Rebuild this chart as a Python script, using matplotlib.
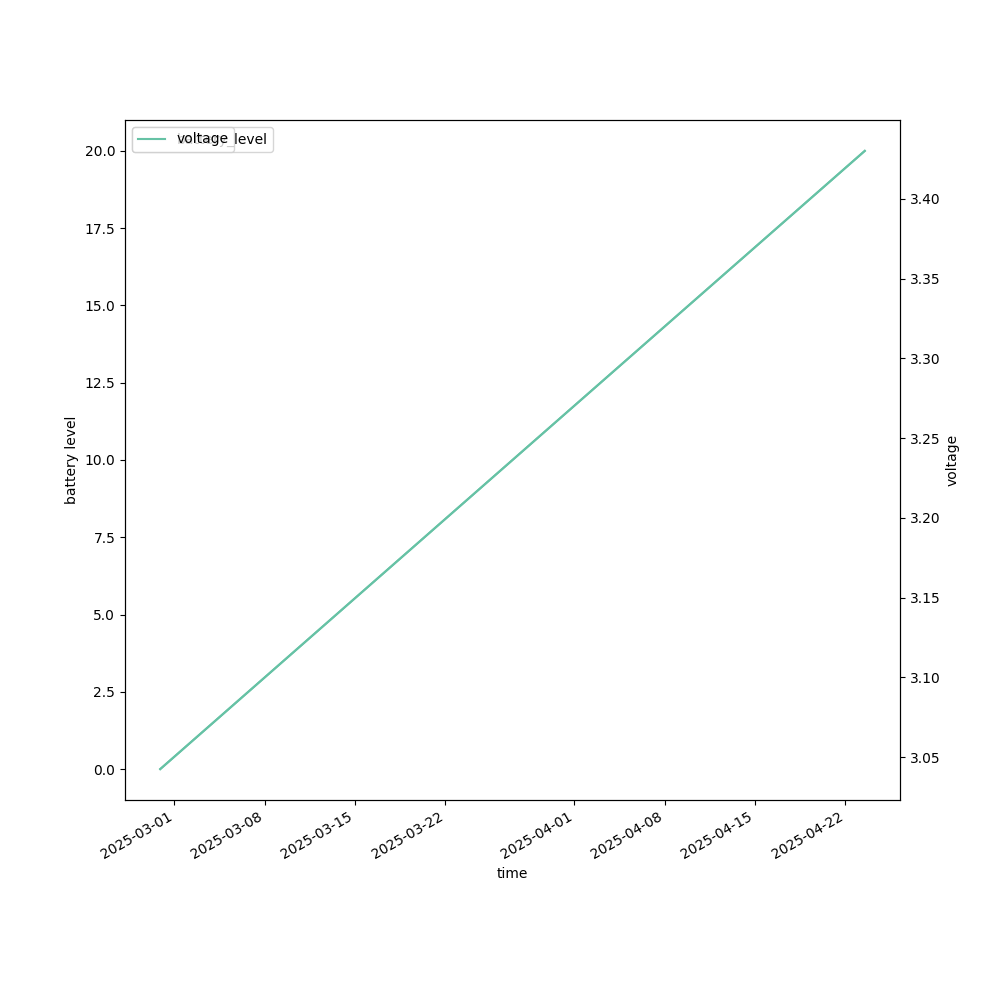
import numpy as np
import pandas as pd
import matplotlib
matplotlib.use("Agg")
import matplotlib.pyplot as plt

# readings (straight line between first and last sample)
times = pd.to_datetime(["2025-02-27 21:30", "2025-04-23 12:40"])
battery_level = [0.0, 20.0]
voltage = [3.0425, 3.43]

color = plt.get_cmap("Set2")(0)

fig, ax1 = plt.subplots(figsize=(10, 10), dpi=100)
ax1.plot(times, battery_level, color=color, label="battery_level")
ax1.set_xlabel("time")
ax1.set_ylabel("battery level")
ax1.legend(loc="upper left")

ax2 = ax1.twinx()
ax2.plot(times, voltage, color=color, label="voltage")
ax2.set_ylabel("voltage")
ax2.legend(loc="upper left")

fig.autofmt_xdate()
fig.savefig("out.png")
